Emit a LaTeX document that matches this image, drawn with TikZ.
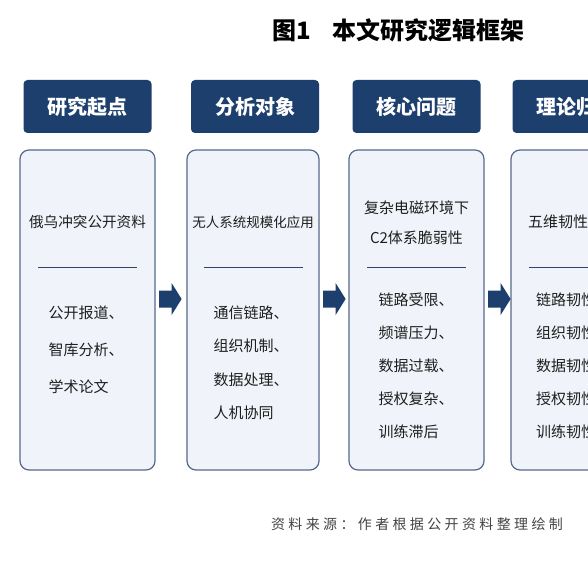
\documentclass[tikz,border=0pt]{standalone}
\usepackage{fontspec}
\newfontfamily\cjk{Noto Sans CJK SC}
\usetikzlibrary{calc}
\definecolor{navy}{HTML}{1D3F6E}
\definecolor{boxfill}{HTML}{F0F4FA}
\definecolor{boxline}{HTML}{56698A}
\definecolor{sepline}{HTML}{2E4466}
\definecolor{txt}{HTML}{1E1E1E}
\definecolor{srcgray}{HTML}{444444}
\begin{document}
\begin{tikzpicture}[x=1pt,y=-1pt,
  hdr/.style={fill=navy, rounded corners=4pt, minimum width=128pt, minimum height=53pt, inner sep=0pt, text=white, font=\cjk\bfseries\fontsize{20}{24}\selectfont},
  bodybox/.style={draw=boxline, line width=1.2pt, fill=boxfill, rounded corners=9pt, minimum height=320pt, inner sep=0pt},
  sepl/.style={draw=sepline, line width=1.3pt},
  ttl/.style={text=txt, inner sep=0pt, align=center, font=\cjk\fontsize{15}{30}\selectfont},
  items/.style={text=txt, inner sep=0pt, align=left, font=\cjk\fontsize{15}{33}\selectfont},
  blockarr/.style={fill=navy}
]
\useasboundingbox (0,0) rectangle (588,588);
\clip (0,0) rectangle (588,588);
\fill[white] (0,0) rectangle (588,588);

% title
\node[inner sep=0pt, text=black, font=\cjk\bfseries\fontsize{24}{28}\selectfont] (title) at (398.5,30) {图1\hspace{22pt}本文研究逻辑框架};

% headers
\node[hdr] (h1) at (87.5,106.5) {研究起点};
\node[hdr] (h2) at (255,106.5) {分析对象};
\node[hdr] (h3) at (416.5,106.5) {核心问题};
\node[hdr] (h4) at (576.5,106.5) {理论归纳};

% body boxes
\node[bodybox, minimum width=135pt] (b1) at (87.5,310) {};
\node[bodybox, minimum width=132pt] (b2) at (253,310) {};
\node[bodybox, minimum width=135pt] (b3) at (416.5,310) {};
\node[bodybox, minimum width=135pt] (b4) at (578.5,310) {};

% separators
\foreach \b in {b1,b2,b3,b4}{
  \draw[sepl] ($(\b.north)+(-49.5,118)$) -- ++(99,0);
}

% box texts
\node[ttl, font=\cjk\fontsize{14.6}{30}\selectfont] (t1) at (87.5,222) {俄乌冲突公开资料};
\node[items, font=\cjk\fontsize{15}{37}\selectfont] (i1) at (86,350) {公开报道、\\智库分析、\\学术论文};

\node[ttl, font=\cjk\fontsize{13.5}{30}\selectfont] (t2) at (253,222) {无人系统规模化应用};
\node[items, font=\cjk\fontsize{15}{33.5}\selectfont] (i2) at (251,363) {通信链路、\\组织机制、\\数据处理、\\人机协同};

\node[ttl] (t3) at (416.5,222.5) {复杂电磁环境下\\C2体系脆弱性};
\node[items] (i3) at (416,366) {链路受限、\\频谱压力、\\数据过载、\\授权复杂、\\训练滞后};

\node[ttl, anchor=west] (t4) at (528,222) {五维韧性框架};
\node[items, anchor=west] (i4) at (536,366) {链路韧性、\\组织韧性、\\数据韧性、\\授权韧性、\\训练韧性};

% block arrows between boxes
\foreach \l/\r in {b1/b2,b2/b3,b3/b4}{
  \fill[blockarr] ($(\l.east)+(3.5,-19.5)$) -- ++(12.5,0) -- ++(0,-7.5) -- ++(10,16) -- ++(-10,16) -- ++(0,-7.5) -- ++(-12.5,0) -- cycle;
}

% source
\node[inner sep=0pt, text=srcgray, font=\cjk\fontsize{14}{16}\selectfont\addfontfeatures{LetterSpace=24}] (src) at (417,524) {资料来源：作者根据公开资料整理绘制};
\end{tikzpicture}
\end{document}
